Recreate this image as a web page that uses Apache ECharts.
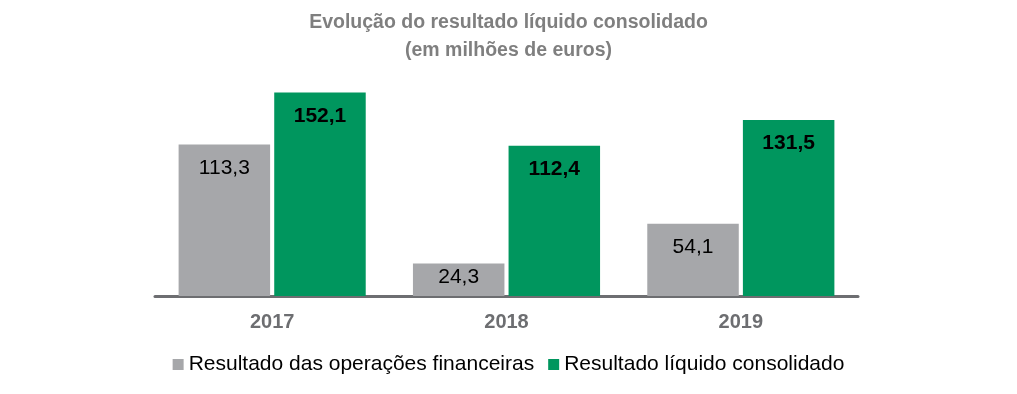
<!DOCTYPE html>
<html><head><meta charset="utf-8">
<script src="https://cdn.jsdelivr.net/npm/echarts@6/dist/echarts.min.js"></script>
<style>html,body{margin:0;padding:0;background:#fff}#c{width:1017px;height:394px}</style>
</head><body><div id="c"></div>
<script>
const titleText = 'Evolução do resultado líquido consolidado\n(em milhões de euros)';
const categories = ['2017', '2018', '2019'];
const seriesNames = ['Resultado das operações financeiras', 'Resultado líquido consolidado'];
const financeiras = [113.3, 24.3, 54.1];
const liquido = [152.1, 112.4, 131.5];

const fmt = p => p.value.toFixed(1).replace('.', ',');
const font = 'Liberation Sans';
const chart = echarts.init(document.getElementById('c'), null, {renderer: 'canvas'});
chart.setOption({
  animation: false,
  textStyle: {fontFamily: font},
  title: {
    text: titleText, left: 'center', top: 4,
    textStyle: {fontFamily: font, fontSize: 19.5, fontWeight: 'bold', color: '#7F7F7F', lineHeight: 28, align: 'center'}
  },
  legend: {
    bottom: 14, left: 'center', itemWidth: 11, itemHeight: 11, itemGap: 14, icon: 'rect',
    textStyle: {fontFamily: font, fontSize: 21, color: '#000'},
    data: seriesNames
  },
  grid: {left: 155, right: 159, top: 82, bottom: 98},
  xAxis: {
    type: 'category', data: categories,
    axisLine: {lineStyle: {color: '#6D6E71', width: 3}},
    axisTick: {show: false},
    axisLabel: {fontFamily: font, fontSize: 20, fontWeight: 'bold', color: '#6D6E71', margin: 16}
  },
  yAxis: {type: 'value', min: 0, max: 160, show: false, splitLine: {show: false}},
  series: [
    {
      name: seriesNames[0], type: 'bar',
      data: financeiras.map(v => v < 30 ? {value: v, label: {distance: 3}} : v),
      barWidth: 91.5, barGap: '4.5%',
      itemStyle: {color: '#A6A7AA'},
      label: {show: true, position: 'insideTop', distance: 13, formatter: fmt,
        fontFamily: font, fontSize: 21, color: '#000'}
    },
    {
      name: seriesNames[1], type: 'bar', data: liquido, barWidth: 91.5,
      itemStyle: {color: '#00965E'},
      label: {show: true, position: 'insideTop', distance: 13, formatter: fmt,
        fontFamily: font, fontSize: 21, fontWeight: 'bold', color: '#000'}
    }
  ]
});
</script></body></html>
